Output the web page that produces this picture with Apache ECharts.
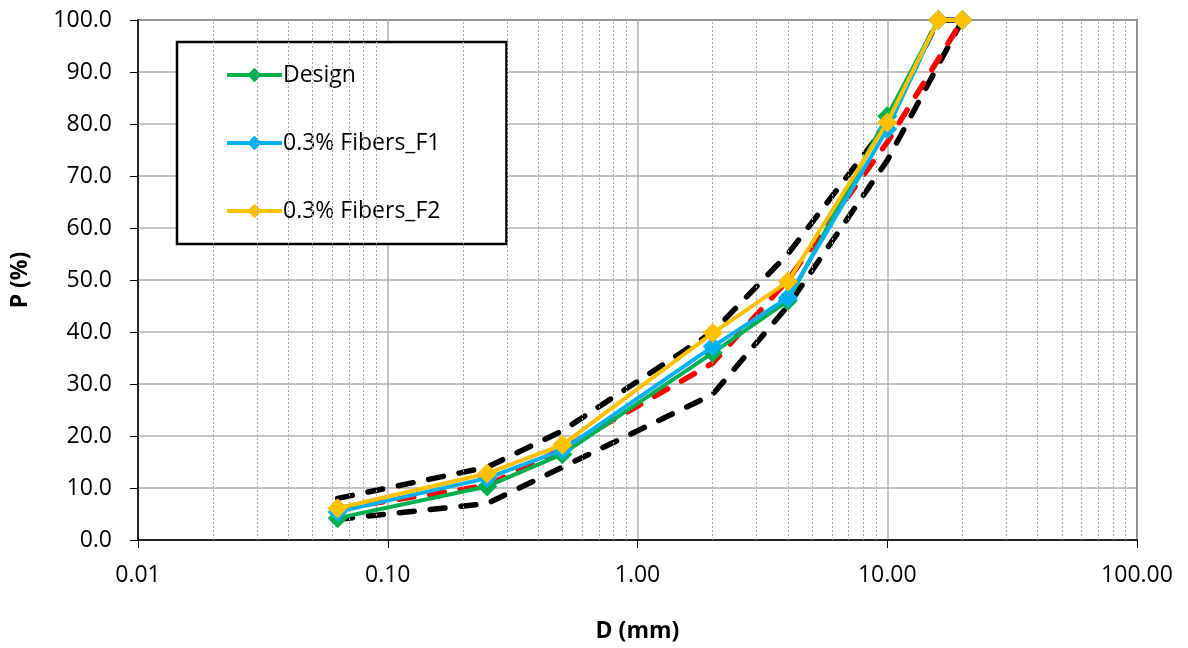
<!DOCTYPE html>
<html>
<head>
<meta charset="utf-8">
<script src="https://cdn.jsdelivr.net/npm/echarts@6/dist/echarts.min.js"></script>
<style>
html,body{margin:0;padding:0;background:#fff;}
#chart{width:1188px;height:648px;}
</style>
</head>
<body>
<div id="chart"></div>
<script>
// Sieve sizes D (mm)
const sieves = [0.063, 0.25, 0.5, 2, 4, 10, 16, 20];
const design = [4.2, 10.3, 16.5, 36.0, 46.0, 81.5, 100, 100];
const fibersF1 = [5.4, 11.9, 17.3, 37.2, 46.6, 79.0, 100, 100];
const fibersF2 = [6.1, 12.8, 18.3, 39.8, 49.7, 80.3, 100, 100];
// Envelope limits
const upperSieves = [0.063, 0.25, 0.5, 2, 4, 10, 16, 20];
const upperLimit = [8, 14, 21, 40, 55, 80, 100, 100];
const lowerSieves = [0.063, 0.25, 0.5, 2, 4, 10, 20];
const lowerLimit = [4, 7, 14, 28, 45, 73, 100];
const midSieves = [0.063, 0.25, 0.5, 2, 4, 10, 20];
const midLine = [6, 10.5, 17.5, 34, 50, 76.5, 100];
// Axis ticks
const decades = [0.01, 0.1, 1, 10];
const minorMultipliers = [2, 3, 4, 5, 6, 7, 8, 9];

const FONT = 'Open Sans';
const pair = (xs, ys) => xs.map((x, i) => [x, ys[i]]);
const minorLines = [];
decades.forEach(d => minorMultipliers.forEach(m => minorLines.push({ xAxis: +(d * m).toPrecision(3) })));

const chart = echarts.init(document.getElementById('chart'));
const dashed = (name, xs, ys, color) => ({
  name, type: 'line', data: pair(xs, ys), symbol: 'none', z: 2,
  lineStyle: { color, width: 5.5, type: [15, 16], cap: 'round' }
});
const solid = (name, ys, color, z) => ({
  name, type: 'line', data: pair(sieves, ys), symbol: 'diamond', symbolSize: 20, z,
  itemStyle: { color }, lineStyle: { color, width: 4 }
});
chart.setOption({
  animation: false,
  textStyle: { fontFamily: FONT },
  grid: { left: 138, right: 51, top: 20, bottom: 108, containLabel: false, outerBoundsMode: 'none', show: true, borderColor: '#000', borderWidth: 1.5, backgroundColor: 'transparent' },
  legend: {
    data: ['Design', '0.3% Fibers_F1', '0.3% Fibers_F2'],
    orient: 'vertical', left: 177, top: 42,
    padding: [20, 66, 20, 48],
    itemGap: 42, itemWidth: 55, itemHeight: 18,
    lineStyle: { width: 4 },
    borderColor: '#000', borderWidth: 2.5, backgroundColor: '#fff',
    textStyle: { fontFamily: FONT, fontSize: 23, color: '#000', lineHeight: 26, padding: [0, 0, 0, -4] }
  },
  xAxis: {
    type: 'log', logBase: 10, min: 0.01, max: 100,
    name: 'D (mm)', nameLocation: 'middle', nameGap: 80,
    nameTextStyle: { fontFamily: FONT, fontSize: 23, fontWeight: 'bold', color: '#000' },
    axisLine: { show: true, lineStyle: { color: '#000', width: 1.5 } },
    axisTick: { show: true, inside: false, length: 8, lineStyle: { color: '#000' } },
    axisLabel: { fontFamily: FONT, fontSize: 23, color: '#000', margin: 24, formatter: v => Number(v).toFixed(2) },
    splitLine: { show: true, lineStyle: { color: '#b0b0b0', width: 1.5 } }
  },
  yAxis: {
    type: 'value', min: 0, max: 100, interval: 10,
    name: 'P (%)', nameLocation: 'middle', nameGap: 106, nameRotate: 90,
    nameTextStyle: { fontFamily: FONT, fontSize: 23, fontWeight: 'bold', color: '#000' },
    axisLine: { show: true, lineStyle: { color: '#000', width: 1.5 } },
    axisTick: { show: true, inside: false, length: 8, lineStyle: { color: '#000' } },
    axisLabel: { fontFamily: FONT, fontSize: 23, color: '#000', margin: 26, formatter: v => Number(v).toFixed(1) },
    splitLine: { show: true, lineStyle: { color: '#b0b0b0', width: 1.5 } }
  },
  series: [
    {
      name: 'minor', type: 'line', data: [], silent: true, z: 1,
      markLine: {
        silent: true, symbol: 'none', animation: false, label: { show: false },
        lineStyle: { color: '#a8a8a8', type: [2, 2], width: 1 },
        data: minorLines
      }
    },
    dashed('Upper limit', upperSieves, upperLimit, '#000'),
    dashed('Lower limit', lowerSieves, lowerLimit, '#000'),
    dashed('Middle', midSieves, midLine, '#ff0000'),
    solid('Design', design, '#00b050', 5),
    solid('0.3% Fibers_F1', fibersF1, '#00b0f0', 6),
    solid('0.3% Fibers_F2', fibersF2, '#ffc000', 7)
  ]
});
</script>
</body>
</html>
